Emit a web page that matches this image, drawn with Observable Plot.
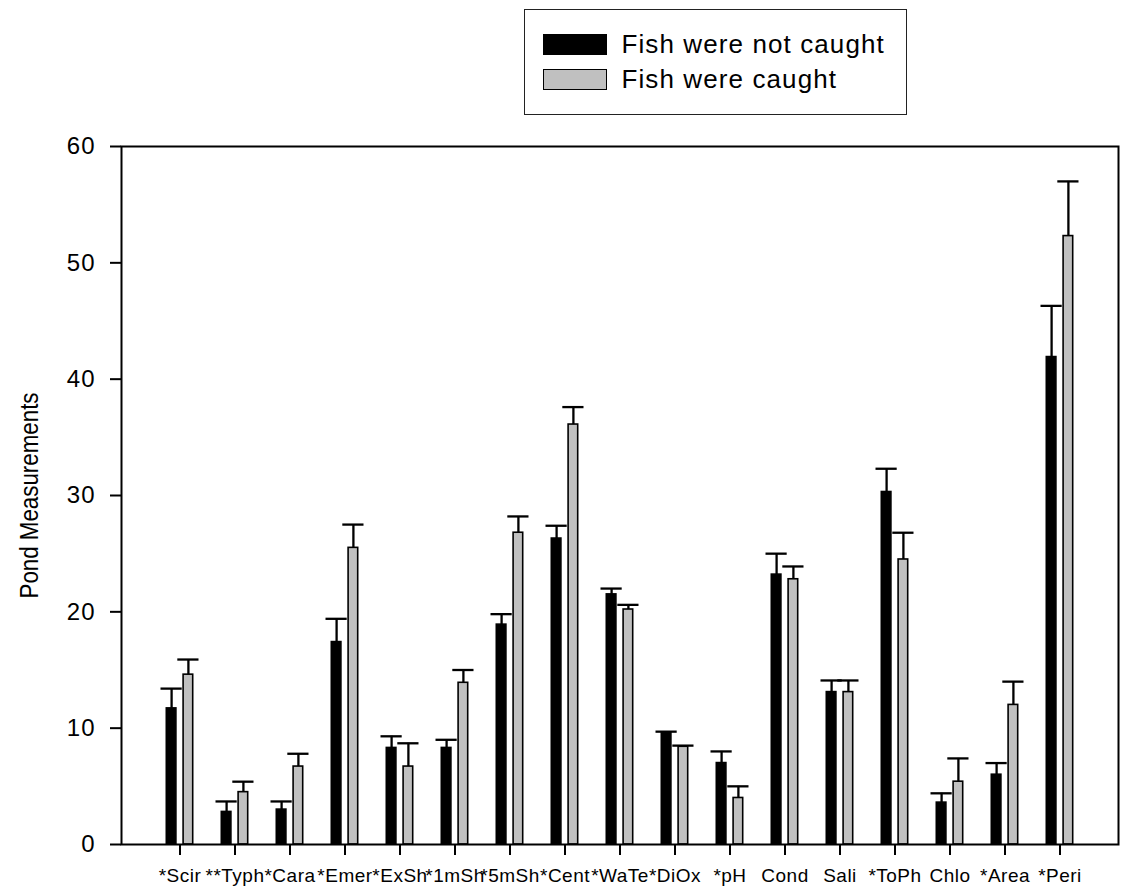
<!DOCTYPE html>
<html>
<head>
<meta charset="utf-8">
<script src="https://cdn.jsdelivr.net/npm/d3@7"></script>
<script src="https://cdn.jsdelivr.net/npm/@observablehq/plot@0.6"></script>
<style>
  body { margin: 0; background: #fff; font-family: "Liberation Sans", Arial, sans-serif; }
  #wrap { position: relative; width: 1126px; height: 891px; }
  #legend {
    position: absolute; left: 524px; top: 9px; width: 383px; height: 106px;
    box-sizing: border-box; border: 1.5px solid #222; background: #fff;
  }
  #legend .row {
    position: absolute; left: 17.5px; height: 22px;
    display: flex; align-items: center;
  }
  #legend .swatch { width: 64px; height: 21px; box-sizing: border-box; border: 1.6px solid #000; }
  #legend .label { margin-left: 15px; font-size: 26px; line-height: 22px; color: #000; letter-spacing: 1.1px; white-space: nowrap; }
  svg [aria-label="x-axis tick"], svg [aria-label="y-axis tick"] { stroke-width: 2px; }
  svg [aria-label="x-axis tick label"] { font-size: 19px !important; letter-spacing: 0.5px; }
  svg [aria-label="y-axis tick label"] { font-size: 24px !important; letter-spacing: 1px; }
</style>
</head>
<body>
<div id="wrap">
  <div id="chart"></div>
  <div id="legend"></div>
</div>
<script>
// Pond variables (asterisks mark significant differences)
const categories = ["*Scir", "**Typh", "*Cara", "*Emer", "*ExSh", "*1mSh", "*5mSh", "*Cent", "*WaTe",
                    "*DiOx", "*pH", "Cond", "Sali", "*ToPh", "Chlo", "*Area", "*Peri"];

// Means and standard errors for ponds where fish were not caught
const notCaught    = [11.7, 2.8, 3.0, 17.4, 8.3, 8.3, 18.9, 26.3, 21.5, 9.6, 7.0, 23.2, 13.1, 30.3, 3.6, 6.0, 41.9];
const notCaughtErr = [ 1.7, 0.9, 0.7,  2.0, 1.0, 0.7,  0.9,  1.1,  0.5, 0.1, 1.0,  1.8,  1.0,  2.0, 0.8, 1.0,  4.4];

// Means and standard errors for ponds where fish were caught
const caught       = [14.6, 4.5, 6.7, 25.5, 6.7, 13.9, 26.8, 36.1, 20.2, 8.4, 4.0, 22.8, 13.1, 24.5, 5.4, 12.0, 52.3];
const caughtErr    = [ 1.3, 0.9, 1.1,  2.0, 2.0,  1.1,  1.4,  1.5,  0.4, 0.1, 1.0,  1.1,  1.0,  2.3, 2.0,  2.0,  4.7];

const seriesNames  = ["Fish were not caught", "Fish were caught"];
const seriesColors = ["#000000", "#c0c0c0"];
const yTicks = [0, 10, 20, 30, 40, 50, 60];
const yLabel = "Pond Measurements";

const toRows = (values, errs) => categories.map((c, i) => ({category: c, value: values[i], top: values[i] + errs[i]}));
const rowsNot = toRows(notCaught, notCaughtErr);
const rowsYes = toRows(caught, caughtErr);

// Two bars per category band: left (not caught) and right (caught)
function seriesMarks(rows, color, side) {
  const near = 31.1, far = 14.3;      // bar insets within the band
  const capNear = 25.3, capFar = 8.5; // error-cap insets within the band
  return [
    Plot.barY(rows, {
      x: "category", y: "value", fill: color, stroke: "#000", strokeWidth: 1.6,
      insetLeft: side < 0 ? far : near, insetRight: side < 0 ? near : far
    }),
    Plot.ruleX(rows, {x: "category", y1: "value", y2: "top", dx: side * 8.4, stroke: "#000", strokeWidth: 2.3}),
    Plot.tickY(rows, {
      x: "category", y: "top", stroke: "#000", strokeWidth: 2.3,
      insetLeft: side < 0 ? capFar : capNear, insetRight: side < 0 ? capNear : capFar
    })
  ];
}

const chart = Plot.plot({
  width: 1126,
  height: 891,
  marginTop: 146,
  marginBottom: 47,
  marginLeft: 121,
  marginRight: 8,
  style: {fontFamily: "Liberation Sans, Arial, sans-serif", background: "#fff", color: "#000"},
  x: {domain: categories, paddingInner: 0, paddingOuter: 0.5, align: 0.5, label: null},
  y: {domain: [0, 60], label: null},
  marks: [
    ...seriesMarks(rowsNot, seriesColors[0], -1),
    ...seriesMarks(rowsYes, seriesColors[1], 1),
    Plot.frame({stroke: "#000", strokeWidth: 2}),
    Plot.axisY({ticks: yTicks, tickSize: 11, tickPadding: 15, fontSize: 24, strokeWidth: 2, label: null}),
    Plot.axisX({tickSize: 11, tickPadding: 13, fontSize: 19, strokeWidth: 2, label: null}),
    Plot.text([yLabel], {frameAnchor: "left", textAnchor: "middle", rotate: -90, dx: -92, fontSize: 26, fill: "#000"})
  ]
});
document.getElementById("chart").append(chart);

// Narrow the rotated axis title so it keeps its tall letterforms
chart.querySelectorAll('g[aria-label="text"] text').forEach(t => {
  if (t.textContent === yLabel) {
    t.setAttribute("textLength", 206);
    t.setAttribute("lengthAdjust", "spacingAndGlyphs");
  }
});

// Legend box
const legend = document.getElementById("legend");
seriesNames.forEach((name, i) => {
  const row = document.createElement("div");
  row.className = "row";
  row.style.top = (23 + i * 35) + "px";
  const sw = document.createElement("div");
  sw.className = "swatch";
  sw.style.background = seriesColors[i];
  const lab = document.createElement("span");
  lab.className = "label";
  lab.textContent = name;
  row.append(sw, lab);
  legend.append(row);
});
</script>
</body>
</html>
